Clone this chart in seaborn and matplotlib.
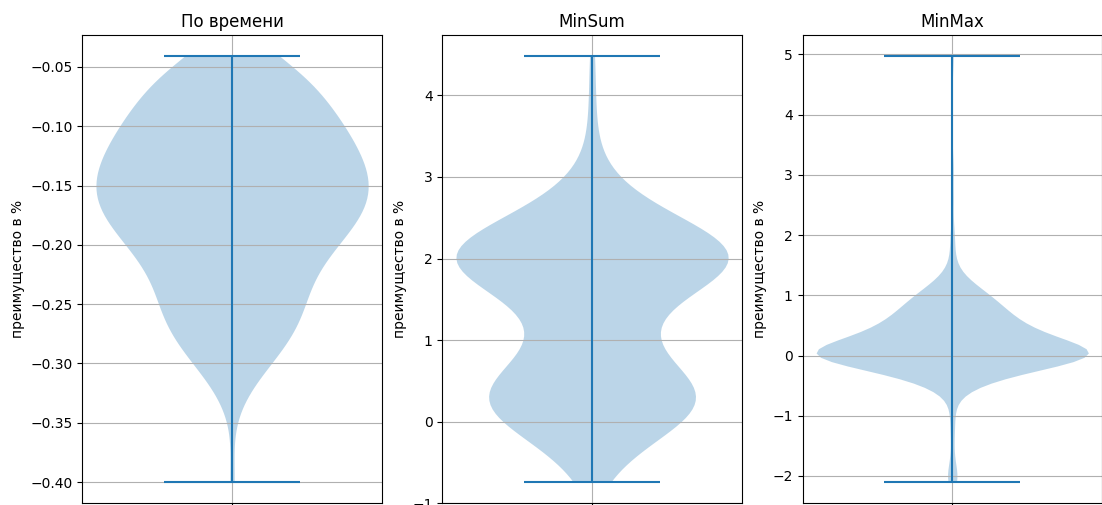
import numpy as np
import pandas as pd
import seaborn as sns
import matplotlib
matplotlib.use("Agg")
import matplotlib.pyplot as plt

# Advantage samples (value -> how many runs gave it), one table per method
time_values = [-0.40, -0.33, -0.32, -0.31, -0.30, -0.29, -0.28, -0.27, -0.26, -0.25,
               -0.24, -0.23, -0.22, -0.21, -0.20, -0.19, -0.18, -0.17, -0.16, -0.15,
               -0.14, -0.13, -0.12, -0.11, -0.10, -0.09, -0.08, -0.07, -0.06, -0.05,
               -0.041]
time_counts = [1, 1, 1, 2, 3, 4, 5, 5, 6, 6,
               5, 6, 6, 7, 8, 9, 10, 11, 11, 11,
               11, 10, 10, 9, 9, 8, 7, 7, 6, 6,
               5]

minsum_values = [-0.74, -0.7, -0.6, -0.5, -0.4, -0.3, -0.2, -0.1, 0.0, 0.1,
                 0.2, 0.3, 0.4, 0.5, 0.6, 0.7, 0.8, 0.9, 1.0, 1.1,
                 1.2, 1.3, 1.4, 1.5, 1.6, 1.7, 1.8, 1.9, 2.0, 2.1,
                 2.2, 2.3, 2.4, 2.5, 2.6, 2.7, 2.8, 2.9, 3.0, 3.1,
                 3.3, 3.6, 4.0, 4.48]
minsum_counts = [1, 1, 1, 2, 2, 3, 4, 5, 7, 8,
                 9, 9, 9, 7, 6, 5, 4, 4, 3, 3,
                 4, 3, 4, 5, 6, 7, 10, 12, 13, 12,
                 10, 8, 8, 5, 4, 3, 2, 2, 1, 1,
                 1, 1, 1, 1]

minmax_values = [-2.1, -2.05, -2.0, -1.9, -1.6, -1.3, -1.1, -0.9, -0.7, -0.6,
                 -0.5, -0.4, -0.3, -0.2, -0.1, 0.0, 0.1, 0.2, 0.3, 0.4,
                 0.5, 0.6, 0.7, 0.8, 0.9, 1.0, 1.1, 1.2, 1.3, 1.4,
                 1.5, 1.7, 1.9, 2.1, 2.6, 3.1, 4.97]
minmax_counts = [1, 1, 2, 1, 1, 1, 1, 1, 1, 1,
                 4, 8, 12, 16, 20, 58, 26, 23, 20, 16,
                 14, 13, 12, 10, 9, 9, 6, 4, 2, 1,
                 1, 1, 1, 1, 1, 1, 1]

titles = ["По времени", "MinSum", "MinMax"]
y_label = "преимущество в %"

tables = [
    (time_values, time_counts),
    (minsum_values, minsum_counts),
    (minmax_values, minmax_counts),
]

BLUE = "#1f77b4"

fig = plt.figure(figsize=(11.02, 5.05), dpi=100)
W, H = 1102.0, 505.0
lefts = [82.3, 442.3, 802.5]
ax_w = 299.5
top_px, bottom_px = 35.0, 503.3

for left, title, (vals, counts) in zip(lefts, titles, tables):
    ax = fig.add_axes([left / W, (H - bottom_px) / H, ax_w / W, (bottom_px - top_px) / H])
    sample = pd.Series(np.repeat(vals, counts), name="adv")

    sns.violinplot(y=sample, ax=ax, inner=None, cut=0, color=BLUE, saturation=1,
                   linewidth=0, alpha=0.3, bw_method="scott", width=0.8)

    lo, hi = sample.min(), sample.max()
    ax.vlines(0, lo, hi, colors=BLUE, linewidth=1.5)
    ax.hlines([lo, hi], -0.2, 0.2, colors=BLUE, linewidth=1.5)

    ax.set_xlim(-0.44, 0.44)
    span = hi - lo
    ax.set_ylim(lo - 0.05 * span, hi + 0.05 * span)
    ax.set_xticks([0])
    ax.set_xticklabels([])
    ax.set_xlabel("")
    ax.set_ylabel(y_label, fontsize=10)
    ax.set_title(title, fontsize=12)
    ax.grid(True, color="#b0b0b0", linewidth=0.8)
    for s in ax.spines.values():
        s.set_visible(True)
        s.set_color("black")
        s.set_linewidth(0.8)

fig.savefig("out.png", dpi=100)
